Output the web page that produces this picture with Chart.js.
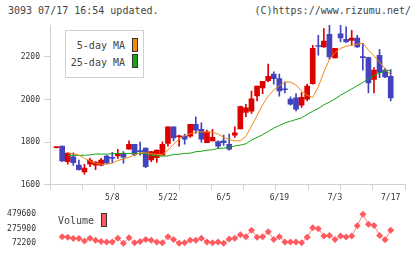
<!DOCTYPE html>
<html>
<head>
<meta charset="utf-8">
<script src="https://cdn.jsdelivr.net/npm/chart.js@4.4.1/dist/chart.umd.min.js"></script>
<style>
  body { margin: 0; width: 420px; height: 259px; background: #fff; position: relative; overflow: hidden;
         font-family: "DejaVu Sans Mono", monospace; color: #444; }
  canvas { position: absolute; left: 0; }
  #priceChart { top: 0; }
  #volumeChart { top: 200px; }
  .txt { position: absolute; font-size: 10px; line-height: 12px; white-space: pre; }
  #legendBox { position: absolute; left: 65px; top: 30px; width: 77px; height: 46px; border: 1px solid #d0d0d0; background: #fff; }
  .lgText { position: absolute; font-size: 10px; line-height: 12px; white-space: pre; text-align: right; }
  .lgSwatch { position: absolute; width: 4px; height: 12px; border: 1px solid #333; }
</style>
</head>
<body>
<div class="txt" style="left:8px;top:5px">3093 07/17 16:54 updated.</div>
<div class="txt" style="right:9px;top:5px">(C)https://www.rizumu.net/</div>
<canvas id="priceChart" width="420" height="205"></canvas>
<canvas id="volumeChart" width="420" height="59"></canvas>
<div id="legendBox"></div>
<div id="volumeLegend"></div>
<script>
const DATES = [
  "4/21", "4/22", "4/23", "4/24", "4/25", "4/28", "4/30",
  "5/1", "5/2", "5/7", "5/8", "5/9", "5/12", "5/13", "5/14", "5/15", "5/16",
  "5/19", "5/20", "5/21", "5/22", "5/23", "5/26", "5/27", "5/28", "5/29", "5/30",
  "6/2", "6/3", "6/4", "6/5", "6/6", "6/9", "6/10", "6/11", "6/12", "6/13",
  "6/16", "6/17", "6/18", "6/19", "6/20", "6/23", "6/24", "6/25", "6/26", "6/27", "6/30",
  "7/1", "7/2", "7/3", "7/4", "7/7", "7/8", "7/9", "7/10", "7/11", "7/14", "7/15", "7/16", "7/17",
];
const LABEL_DATES = ["5/8", "5/22", "6/5", "6/19", "7/3", "7/17"];

const OPEN = [
  1774, 1781, 1708, 1731, 1692, 1660, 1697, 1692, 1692, 1734,
  1726, 1735, 1747, 1767, 1790, 1757, 1772, 1716, 1727, 1739,
  1794, 1872, 1825, 1828, 1828, 1884, 1860, 1797, 1806, 1802,
  1806, 1790, 1833, 1862, 1939, 1945, 2017, 2055, 2088, 2119,
  2098, 2048, 2002, 2008, 1974, 2002, 2075, 2251, 2247, 2306,
  2195, 2309, 2283, 2278, 2289, 2199, 2197, 2095, 2208, 2138, 2109,
];
const HIGH = [
  1776, 1781, 1750, 1750, 1716, 1696, 1724, 1708, 1724, 1739,
  1752, 1766, 1755, 1806, 1790, 1800, 1772, 1757, 1762, 1801,
  1872, 1872, 1833, 1838, 1884, 1919, 1891, 1856, 1860, 1806,
  1833, 1838, 1872, 1969, 1977, 2040, 2063, 2086, 2166, 2130,
  2119, 2083, 2013, 2028, 2033, 2072, 2255, 2302, 2333, 2349,
  2241, 2349, 2341, 2325, 2302, 2263, 2199, 2150, 2235, 2146, 2141,
];
const LOW = [
  1773, 1708, 1696, 1690, 1668, 1650, 1685, 1670, 1688, 1700,
  1703, 1724, 1701, 1767, 1735, 1739, 1680, 1708, 1705, 1739,
  1781, 1806, 1781, 1790, 1822, 1841, 1800, 1797, 1806, 1771,
  1785, 1762, 1822, 1862, 1919, 1935, 1994, 2028, 2083, 2072,
  2016, 2031, 1974, 1947, 1963, 1994, 2072, 2208, 2245, 2188,
  2195, 2270, 2268, 2255, 2245, 2138, 2031, 2031, 2103, 2103, 1994,
];
const CLOSE = [
  1775, 1712, 1749, 1703, 1670, 1678, 1716, 1706, 1716, 1701,
  1724, 1747, 1729, 1790, 1742, 1755, 1685, 1755, 1762, 1790,
  1872, 1820, 1828, 1814, 1884, 1856, 1814, 1848, 1822, 1781,
  1797, 1767, 1844, 1967, 1961, 2003, 2063, 2086, 2109, 2098,
  2041, 2046, 1978, 1955, 2010, 2063, 2241, 2249, 2275, 2200,
  2241, 2289, 2270, 2289, 2247, 2197, 2078, 2138, 2127, 2106, 2008,
];
const MA5 = [
  null, null, 1749, 1745, 1739, 1724, 1711, 1701, 1696, 1696,
  1701, 1714, 1720, 1729, 1739, 1750, 1750, 1745, 1742, 1742,
  1762, 1790, 1815, 1830, 1840, 1846, 1848, 1848, 1846, 1838,
  1822, 1812, 1806, 1806, 1828, 1875, 1925, 1975, 2015, 2045,
  2065, 2082, 2082, 2068, 2040, 2020, 2010, 2060, 2130, 2188,
  2220, 2240, 2250, 2255, 2260, 2264, 2232, 2205, 2175, 2145, 2115,
];
const MA25 = [
  null, null, 1738, 1738, 1738, 1738, 1740, 1744, 1744, 1744,
  1745, 1747, 1747, 1747, 1747, 1746, 1745, 1737, 1736, 1734,
  1735, 1742, 1743, 1747, 1748, 1755, 1757, 1762, 1764, 1770,
  1772, 1776, 1782, 1786, 1792, 1810, 1822, 1835, 1850, 1866,
  1878, 1890, 1898, 1906, 1914, 1930, 1945, 1958, 1975, 1988,
  2003, 2020, 2035, 2050, 2065, 2080, 2098, 2112, 2125, 2133, 2138,
];
const VOLUME = [
  null, 163900, 153700, 136700, 136700, 102800, 140100, 112900, 96000, 89200,
  89200, 140100, 68800, 146900, 79000, 96000, 123100, 112900, 89200, 79000,
  163900, 123100, 68800, 79000, 112900, 112900, 140100, 89200, 79000, 89200,
  68800, 129900, 140100, 191000, 163900, 255500, 153700, 163900, 231800, 123100,
  163900, 89200, 89200, 89200, 79000, 153700, 289500, 275900, 174000, 180800,
  123100, 174000, 157100, 174000, 316600, 479600, 340400, 323400, 180800, 119700, 255500,
];
const PRICE_TICKS = [1600, 1800, 2000, 2200];
const VOLUME_TICKS = [72200, 275900, 479600];

const UP_COLOR = "#dc0000";
const DOWN_COLOR = "#4343bf";
const MA5_COLOR = "#f08a10";
const MA25_COLOR = "#16a316";
const VOLUME_COLOR = "#ff5a5f";
const AXIS_COLOR = "#d0d0d0";
const MONO = "'DejaVu Sans Mono', monospace";

const X_MIN = -1.185;
const X_MAX = 62.57;
const labelIndexes = LABEL_DATES.map((d) => DATES.indexOf(d));

const candleColor = (ctx) => {
  const i = ctx.dataIndex;
  if (i == null) return UP_COLOR;
  return CLOSE[i] >= OPEN[i] ? UP_COLOR : DOWN_COLOR;
};

function points(values) {
  return values.map((v, i) => ({ x: i, y: v }));
}

const priceDatasets = [
  {
    type: "line",
    label: "5-day MA",
    data: points(MA5),
    borderColor: MA5_COLOR,
    borderWidth: 1,
    pointRadius: 0,
    order: 0,
  },
  {
    type: "line",
    label: "25-day MA",
    data: points(MA25),
    borderColor: MA25_COLOR,
    borderWidth: 1,
    pointRadius: 0,
    order: 0,
  },
  {
    type: "bar",
    label: "body",
    data: OPEN.map((o, i) => ({ x: i, y: [o, CLOSE[i]] })),
    backgroundColor: candleColor,
    barThickness: 5,
    minBarLength: 1,
    grouped: false,
    order: 1,
  },
  {
    type: "bar",
    label: "wick",
    data: LOW.map((l, i) => ({ x: i, y: [l, HIGH[i]] })),
    backgroundColor: candleColor,
    barThickness: 1,
    grouped: false,
    order: 2,
  },
];

new Chart(document.getElementById("priceChart"), {
  type: "bar",
  data: { datasets: priceDatasets },
  options: {
    responsive: false,
    animation: false,
    devicePixelRatio: 1,
    layout: { padding: { left: 0, right: 15, top: 25, bottom: 0 } },
    plugins: { legend: { display: false }, tooltip: { enabled: false } },
    scales: {
      x: {
        type: "linear",
        min: X_MIN,
        max: X_MAX,
        offset: false,
        afterBuildTicks: (axis) => {
          const ticks = [];
          for (let k = 0; k <= 11; k += 1) ticks.push({ value: X_MIN + (k * (X_MAX - X_MIN)) / 11 });
          for (const i of labelIndexes) ticks.push({ value: i });
          ticks.sort((a, b) => a.value - b.value);
          axis.ticks = ticks;
        },
        afterFit: (axis) => { axis.height = 20.3; },
        grid: {
          offset: false,
          drawOnChartArea: false,
          tickLength: 5,
          tickColor: (ctx) => (ctx.tick && labelIndexes.includes(ctx.tick.value) ? "rgba(0,0,0,0)" : AXIS_COLOR),
        },
        border: { display: true, color: AXIS_COLOR },
        ticks: {
          autoSkip: false,
          maxRotation: 0,
          padding: 3,
          color: "#333",
          font: { family: MONO, size: 8 },
          callback: (value) => (labelIndexes.includes(value) ? DATES[value] : ""),
        },
      },
      y: {
        min: 1600,
        max: 2350,
        afterBuildTicks: (axis) => { axis.ticks = PRICE_TICKS.map((v) => ({ value: v })); },
        afterFit: (axis) => { axis.width = 50; },
        grid: { drawOnChartArea: false, tickLength: 6, tickColor: AXIS_COLOR },
        border: { display: true, color: AXIS_COLOR },
        ticks: {
          padding: 4,
          color: "#333",
          font: { family: MONO, size: 8 },
          callback: (v) => String(v),
        },
      },
    },
  },
});

new Chart(document.getElementById("volumeChart"), {
  type: "line",
  data: {
    datasets: [
      {
        label: "Volume",
        data: points(VOLUME),
        borderColor: "#ff8080",
        borderWidth: 1,
        pointStyle: "rectRot",
        pointRadius: 3.5,
        pointBorderWidth: 0,
        pointBackgroundColor: VOLUME_COLOR,
      },
    ],
  },
  options: {
    responsive: false,
    animation: false,
    devicePixelRatio: 1,
    layout: { padding: { left: 0, right: 15, top: 4, bottom: 3 } },
    plugins: { legend: { display: false }, tooltip: { enabled: false } },
    scales: {
      x: { type: "linear", min: X_MIN, max: X_MAX, display: false },
      y: {
        min: 0,
        max: 530000,
        afterBuildTicks: (axis) => { axis.ticks = VOLUME_TICKS.map((v) => ({ value: v })); },
        afterFit: (axis) => { axis.width = 50; },
        grid: { display: false },
        border: { display: false },
        ticks: {
          padding: 6,
          color: "#333",
          font: { family: MONO, size: 8 },
          callback: (v) => String(v),
        },
      },
    },
  },
});

// legends: text first, colour box on the right
function addLegendRow(parent, label, color, textRight, top, swatchLeft, swatchTop) {
  const t = document.createElement("div");
  t.className = "lgText";
  t.textContent = label;
  t.style.right = textRight + "px";
  t.style.top = top + "px";
  parent.appendChild(t);
  const s = document.createElement("div");
  s.className = "lgSwatch";
  s.style.background = color;
  s.style.left = swatchLeft + "px";
  s.style.top = swatchTop + "px";
  parent.appendChild(s);
}

const legendBox = document.getElementById("legendBox");
addLegendRow(legendBox, priceDatasets[0].label, MA5_COLOR, 18, 9, 66, 7);
addLegendRow(legendBox, priceDatasets[1].label, MA25_COLOR, 18, 26, 66, 23);

addLegendRow(document.body, "Volume", VOLUME_COLOR, 420 - 94, 215, 101, 213);
</script>
</body>
</html>
